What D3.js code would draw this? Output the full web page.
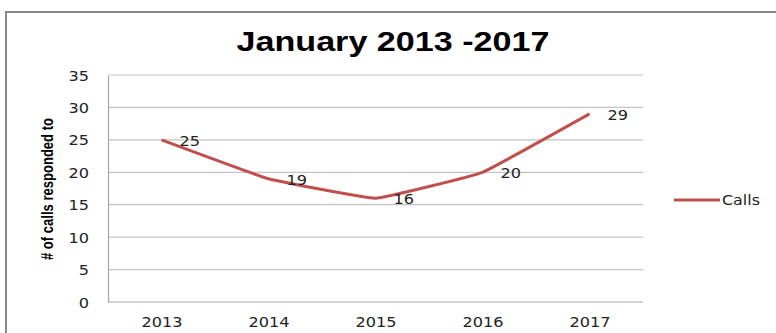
<!DOCTYPE html>
<html>
<head>
  <meta charset="utf-8">
  <title>January 2013 -2017</title>
  <script src="https://d3js.org/d3.v7.min.js"></script>
  <style>
    html, body { margin: 0; padding: 0; background: #fff; }
    svg { display: block; }
    .tick text, .lbl { font-family: "DejaVu Sans", Verdana, sans-serif; font-size: 14px; fill: #222; }
  </style>
</head>
<body>
  <svg width="776" height="333"></svg>
  <script>
    // chart values
    const years = ["2013", "2014", "2015", "2016", "2017"];
    const calls = [25, 19, 16, 20, 29];
    const yTicks = [0, 5, 10, 15, 20, 25, 30, 35];
    const seriesName = "Calls";

    const svg = d3.select("svg");
    const red = "#c0504d";

    // stretch text horizontally, the original looks wide
    function stretch(sel, k) {
      sel.each(function () {
        const len = this.getComputedTextLength();
        d3.select(this).attr("textLength", len * k).attr("lengthAdjust", "spacingAndGlyphs");
      });
    }

    // outer chart border (runs off the picture on right and bottom)
    svg.append("rect")
      .attr("x", 6).attr("y", 12)
      .attr("width", 900).attr("height", 400)
      .attr("fill", "none")
      .attr("stroke", "#888")
      .attr("stroke-width", 2);

    const x = d3.scalePoint().domain(years).range([108, 643]).padding(0.5);
    const y = d3.scaleLinear().domain([0, 35]).range([302, 75]);

    // gridlines
    svg.append("g")
      .selectAll("line")
      .data(yTicks.filter(d => d > 0))
      .enter().append("line")
      .attr("x1", 108).attr("x2", 643)
      .attr("y1", d => y(d)).attr("y2", d => y(d))
      .attr("stroke", "#c4c4c4").attr("stroke-width", 1.2);

    // y axis
    const yAxis = svg.append("g")
      .attr("transform", "translate(108,0)")
      .call(d3.axisLeft(y).tickValues(yTicks).tickSize(0).tickPadding(19));
    yAxis.select(".domain").attr("stroke", "#a6a6a6").attr("stroke-width", 1.2);
    yAxis.selectAll(".tick text").attr("dy", "0.36em");
    stretch(yAxis.selectAll(".tick text"), 1.15);

    // x axis
    const xAxis = svg.append("g")
      .attr("transform", "translate(0,302)")
      .call(d3.axisBottom(x).tickSize(0).tickPadding(15));
    xAxis.select(".domain").attr("stroke", "#a6a6a6").attr("stroke-width", 1.2).attr("d", "M108,0H643");
    stretch(xAxis.selectAll(".tick text"), 1.15);

    // line, only lightly smoothed
    const line = d3.line()
      .x((d, i) => x(years[i]))
      .y(d => y(d))
      .curve(d3.curveCardinal.tension(0.75));

    svg.append("path")
      .datum(calls)
      .attr("d", line)
      .attr("fill", "none")
      .attr("stroke", red)
      .attr("stroke-width", 3);

    // data labels
    const labels = svg.append("g")
      .selectAll("text")
      .data(calls)
      .enter().append("text")
      .attr("class", "lbl")
      .attr("x", (d, i) => x(years[i]) + 18)
      .attr("y", d => y(d) + 6)
      .text(d => d);
    stretch(labels, 1.15);

    // title
    svg.append("text")
      .attr("x", 393).attr("y", 51)
      .attr("text-anchor", "middle")
      .style("font-family", "'Liberation Sans', Arial, sans-serif")
      .style("font-weight", "bold")
      .style("font-size", "27px")
      .attr("textLength", 313).attr("lengthAdjust", "spacingAndGlyphs")
      .text("January 2013 -2017");

    // y axis title
    svg.append("text")
      .attr("transform", "translate(53,189) rotate(-90)")
      .attr("text-anchor", "middle")
      .style("font-family", "'Liberation Sans Narrow', 'Liberation Sans', sans-serif")
      .style("font-weight", "bold")
      .style("font-size", "17px")
      .attr("textLength", 142).attr("lengthAdjust", "spacingAndGlyphs")
      .text("# of calls responded to");

    // legend
    const legend = svg.append("g").attr("transform", "translate(674,200)");
    legend.append("line")
      .attr("x1", 0).attr("x2", 46)
      .attr("stroke", red).attr("stroke-width", 3);
    legend.append("text")
      .attr("class", "lbl")
      .attr("x", 48).attr("y", 5)
      .style("font-size", "14px")
      .attr("textLength", 38).attr("lengthAdjust", "spacingAndGlyphs")
      .text(seriesName);
  </script>
</body>
</html>
